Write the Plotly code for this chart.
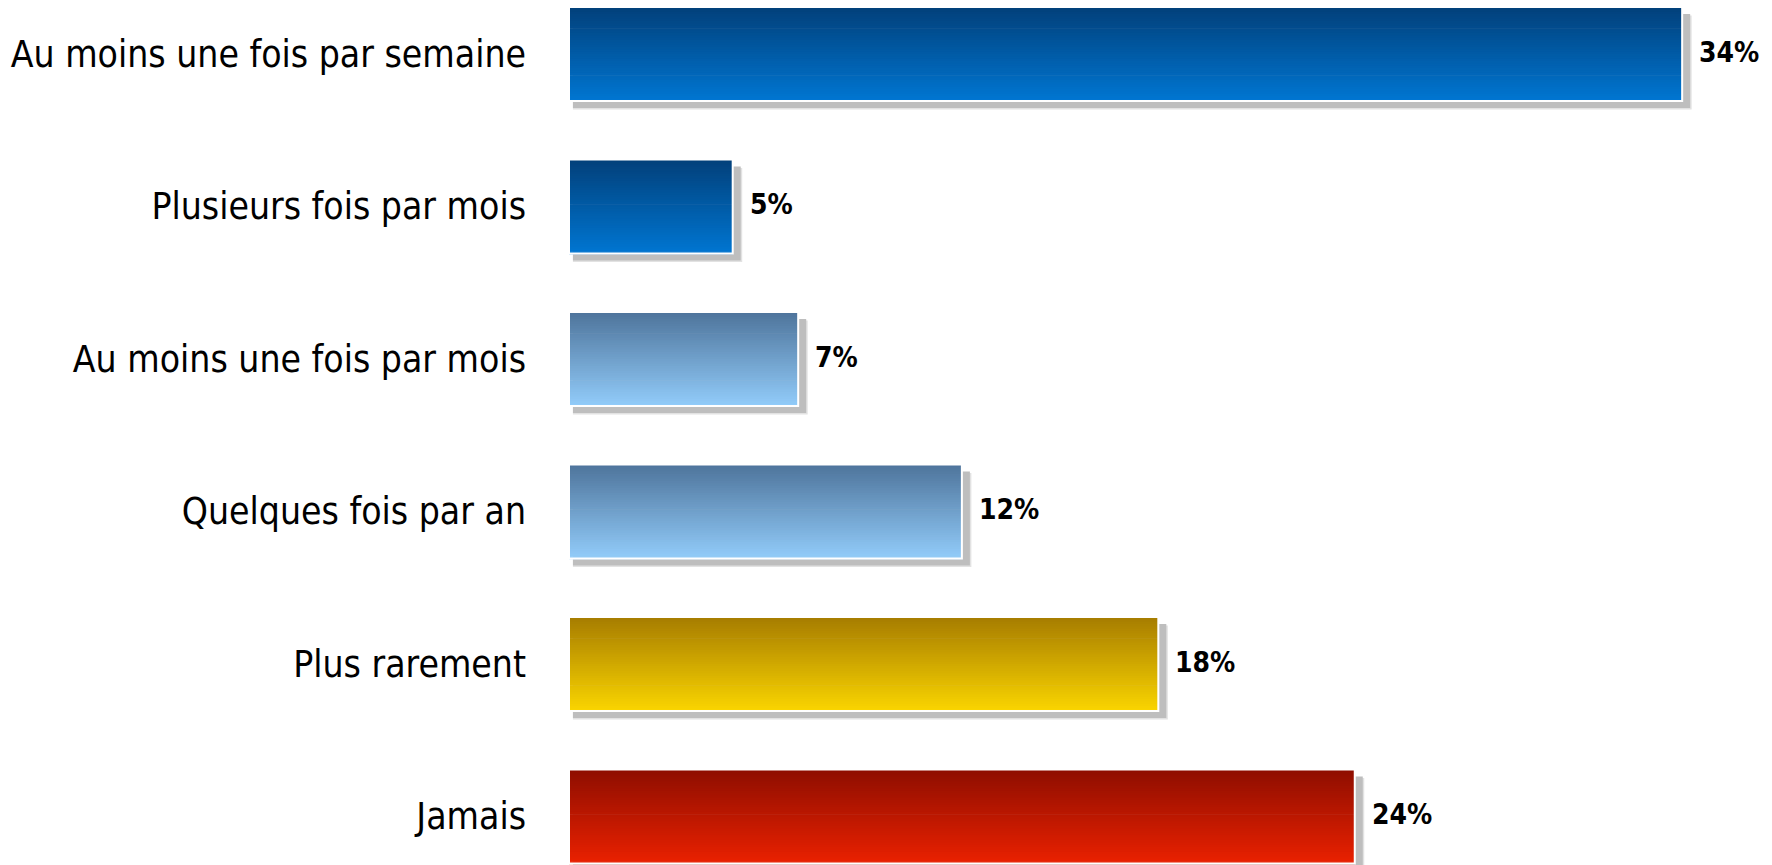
import plotly.graph_objects as go

categories = ["Au moins une fois par semaine", "Plusieurs fois par mois",
              "Au moins une fois par mois", "Quelques fois par an",
              "Plus rarement", "Jamais"]
values = [34, 5, 7, 12, 18, 24]
value_labels = ["34%", "5%", "7%", "12%", "18%", "24%"]

# style: gradient (top, bottom) colours per bar
top_cols = [(2, 64, 122), (2, 64, 122), (78, 116, 155), (78, 116, 155), (166, 124, 0), (142, 14, 0)]
bot_cols = [(0, 118, 210), (0, 118, 210), (146, 204, 250), (146, 204, 250), (250, 213, 0), (234, 33, 0)]

W, H = 1772, 865
OFF = 8  # page body margin
L = 569 - OFF
PX_PER_UNIT = 32.74
CAT_PX = 152.5
BAR_W = 94 / CAT_PX
xmax = (W - L) / PX_PER_UNIT
c0 = 54 - OFF
ytop = -c0 / CAT_PX
ybot = 5 + (H - c0 - 5 * CAT_PX) / CAT_PX

fig = go.Figure()

# shadow layers
for extra, col in [(1.5, "#E2E2E2"), (0, "#BEBEBE")]:
    dx = (8 + extra) / PX_PER_UNIT
    fig.add_trace(go.Bar(
        y=categories, x=[v + dx - 0.12 for v in values], base=0.12,
        orientation="h", width=BAR_W, offset=-BAR_W / 2 + (7 + extra) / CAT_PX,
        marker=dict(color=col, line=dict(width=0)), hoverinfo="skip", showlegend=False))

# gradient strips
N = 40
sw = BAR_W / N
for i in range(N):
    t = (i + 0.5) / N
    cols = ["rgb(%d,%d,%d)" % tuple(round(a + (b - a) * t) for a, b in zip(tc, bc))
            for tc, bc in zip(top_cols, bot_cols)]
    fig.add_trace(go.Bar(
        y=categories, x=values, orientation="h",
        width=sw * 1.3, offset=-BAR_W / 2 + i * sw,
        marker=dict(color=cols, line=dict(width=0)),
        hoverinfo="skip", showlegend=False))

# white border
fig.add_trace(go.Bar(
    y=categories, x=values, orientation="h", width=BAR_W, offset=-BAR_W / 2,
    marker=dict(color="rgba(0,0,0,0)", line=dict(color="white", width=2)),
    hoverinfo="skip", showlegend=False))

for c, v, lab in zip(categories, values, value_labels):
    fig.add_annotation(x=v, y=c, text="<b>" + lab + "</b>", showarrow=False,
                       xanchor="left", xshift=15, yshift=2,
                       font=dict(family="DejaVu Sans Condensed, DejaVu Sans", size=28, color="#000000"))

fig.update_layout(
    width=W, height=H, barmode="overlay",
    margin=dict(l=L, r=0, t=0, b=0),
    paper_bgcolor="white", plot_bgcolor="white",
    xaxis=dict(range=[0, xmax], visible=False, fixedrange=True),
    yaxis=dict(range=[ybot, ytop], showgrid=False, zeroline=False, showline=False,
               ticks="", ticklabelstandoff=42,
               tickfont=dict(family="DejaVu Sans Condensed, DejaVu Sans", size=37, color="#000000")),
)

fig.write_html("out.html")
